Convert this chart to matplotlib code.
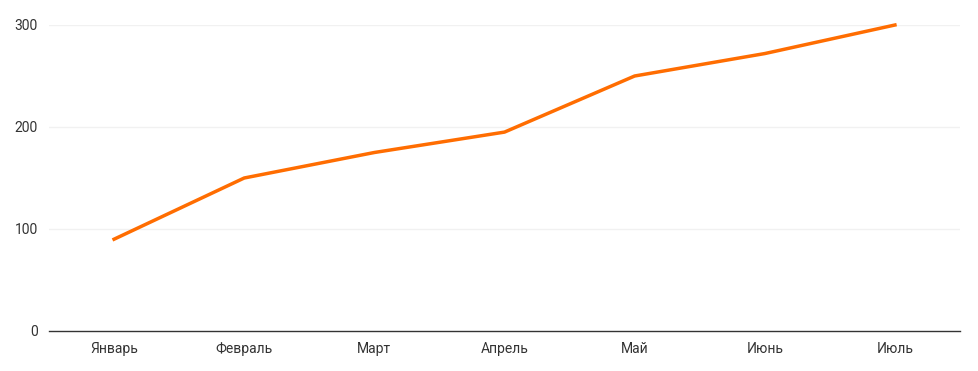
import matplotlib
matplotlib.use("Agg")
import matplotlib.pyplot as plt

plt.rcParams['font.family'] = ['Roboto', 'DejaVu Sans']

months = ["Январь", "Февраль", "Март", "Апрель", "Май", "Июнь", "Июль"]
values = [90, 150, 175, 195, 250, 272, 300]
yticks = [0, 100, 200, 300]

fig = plt.figure(figsize=(9.79, 3.71), dpi=100)
ax = fig.add_axes([49 / 979, 1 - 331 / 371, 911 / 979, 306 / 371])

x = list(range(len(months)))
ax.plot(x, values, color="#ff6d01", linewidth=2.5, clip_on=False, zorder=3)

ax.set_xlim(-0.5, len(months) - 0.5)
ax.set_ylim(0, 300)
ax.set_xticks(x)
ax.set_xticklabels(months)
ax.set_yticks(yticks)

# light grid, dark baseline
for v in yticks[1:]:
    ax.axhline(v, color="#f1f1f1", linewidth=1, zorder=1)
ax.axhline(0, color="#333333", linewidth=1, zorder=2, clip_on=False)

for s in ax.spines.values():
    s.set_visible(False)
ax.tick_params(axis="both", length=0, labelsize=10, colors="#333333")
ax.tick_params(axis="x", pad=8)
ax.tick_params(axis="y", pad=8)

fig.savefig("out.png", dpi=100)
